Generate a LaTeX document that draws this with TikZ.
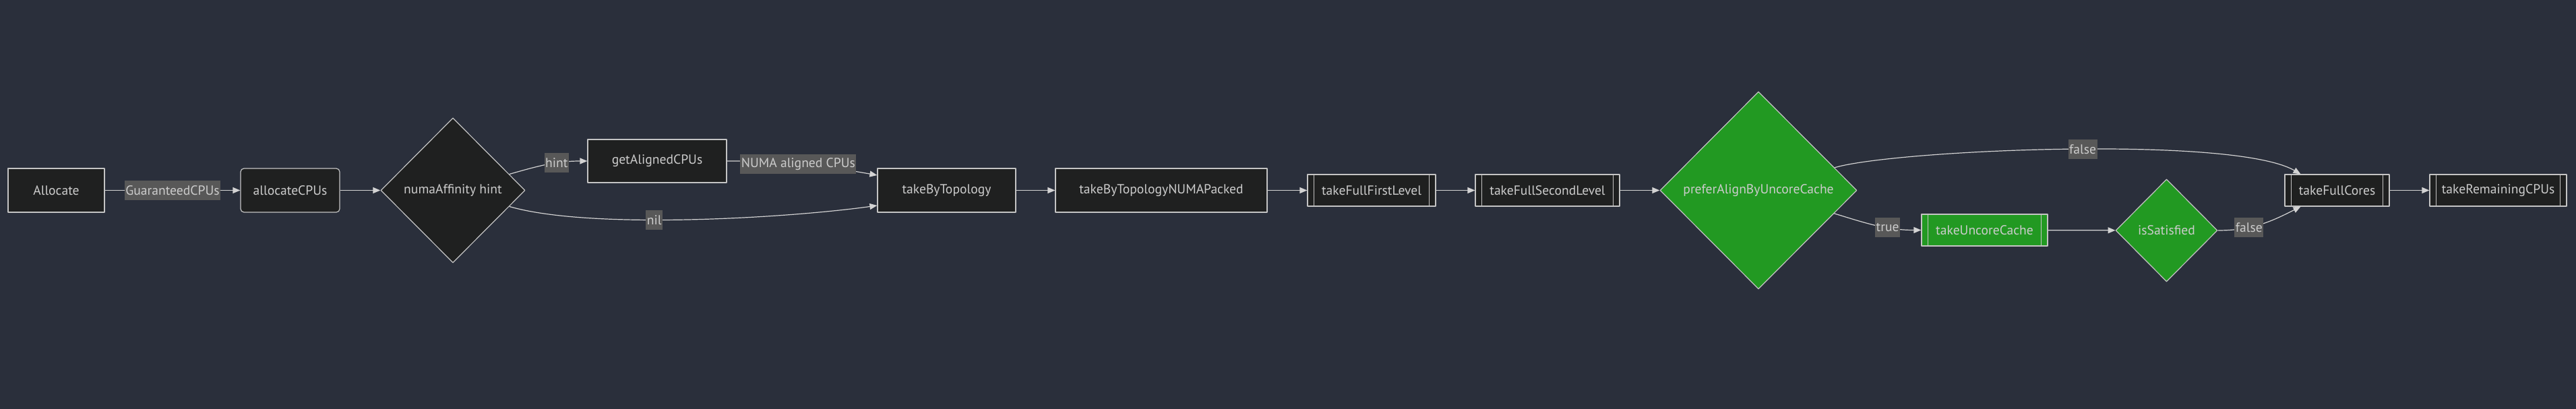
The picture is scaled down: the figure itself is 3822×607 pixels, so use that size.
\documentclass[tikz,border=0pt]{standalone}
\usepackage{fontspec}
\setmainfont{PT Sans}
\usetikzlibrary{shapes.geometric,arrows.meta}
\definecolor{bgc}{HTML}{2A2F3B}
\definecolor{nodebg}{HTML}{1F2020}
\definecolor{border}{HTML}{C4C4C4}
\definecolor{txt}{HTML}{CCCCCC}
\definecolor{lblbg}{HTML}{585858}
\definecolor{okgreen}{HTML}{229922}
\definecolor{linec}{HTML}{D3D3D3}
\begin{document}
\begin{tikzpicture}[x=1pt, y=1pt, font=\fontsize{19.6}{23}\selectfont, line join=round,
    >={Triangle[length=11pt,width=9pt]},
    box/.style={draw=border, line width=1.2pt, fill=nodebg, text=txt, inner sep=0pt, minimum height=65},
    sub/.style={box, minimum height=47, path picture={
        \draw[border, line width=1.2pt]
          ([xshift=9.5pt]path picture bounding box.north west) -- ([xshift=9.5pt]path picture bounding box.south west)
          ([xshift=-9.5pt]path picture bounding box.north east) -- ([xshift=-9.5pt]path picture bounding box.south east);}},
    dec/.style={diamond, aspect=1, draw=border, line width=1.2pt, fill=nodebg, text=txt, inner sep=0pt},
    link/.style={draw=linec, line width=1.2pt, ->},
    lbl/.style={fill=lblbg, text=txt, inner xsep=1.5pt, inner ysep=0pt, minimum height=29}]
    \fill[bgc] (0,0) rectangle (3822,-607);
    \useasboundingbox (0,0) rectangle (3822,-607);
    % nodes
    \node[box, minimum width=143] (alloc) at (83.5,-282.5) {Allocate};
    \node[box, minimum width=147, rounded corners=5pt] (allocCPUs) at (430.5,-282.5) {allocateCPUs};
    \node[dec, minimum width=214, minimum height=215] (numa) at (672,-282.5) {numaAffinity hint};
    \node[box, minimum width=206, minimum height=64] (aligned) at (975,-239) {getAlignedCPUs};
    \node[box, minimum width=205] (topo) at (1404.5,-282.5) {takeByTopology};
    \node[box, minimum width=314] (packed) at (1723,-282.5) {takeByTopologyNUMAPacked};
    \node[sub, minimum width=190] (first) at (2035,-282.5) {takeFullFirstLevel};
    \node[sub, minimum width=214] (second) at (2296,-282.5) {takeFullSecondLevel};
    \node[dec, fill=okgreen, minimum width=292, minimum height=293] (prefer) at (2609,-282.5) {preferAlignByUncoreCache};
    \node[sub, fill=okgreen, minimum width=187] (uncore) at (2944.5,-341.5) {takeUncoreCache};
    \node[dec, fill=okgreen, minimum width=151, minimum height=152] (satisfied) at (3214.5,-342) {isSatisfied};
    \node[sub, minimum width=155] (cores) at (3467.5,-282.5) {takeFullCores};
    \node[sub, minimum width=203] (remaining) at (3706.5,-282.5) {takeRemainingCPUs};
    % links
    \draw[link] (alloc) -- node[lbl] {GuaranteedCPUs} (allocCPUs);
    \draw[link] (allocCPUs) -- (numa);
    \draw[link] (numa) to[out=16,in=180] node[lbl,pos=0.62] {hint} (aligned);
    \draw[link] (aligned) to[out=0,in=170] node[lbl,pos=0.47] {NUMA aligned CPUs} ([yshift=22.5pt]topo.west);
    \draw[link] (numa) to[out=-16,in=188,looseness=0.6] node[lbl,pos=0.41] {nil} ([yshift=-22.5pt]topo.west);
    \draw[link] (topo) -- (packed);
    \draw[link] (packed) -- (first);
    \draw[link] (first) -- (second);
    \draw[link] (second) -- (prefer);
    \draw[link] (prefer) .. controls +(201,60) and +(-100,58) .. ([xshift=-54pt]cores.north) node[lbl,pos=0.53] {false};
    \draw[link] (prefer) to[out=-17,in=180] node[lbl,pos=0.63] {true} (uncore);
    \draw[link] (uncore) -- (satisfied);
    \draw[link] (satisfied) to[out=0,in=207] node[lbl,pos=0.35] {false} ([xshift=-54pt]cores.south);
    \draw[link] (cores) -- (remaining);
\end{tikzpicture}
\end{document}
